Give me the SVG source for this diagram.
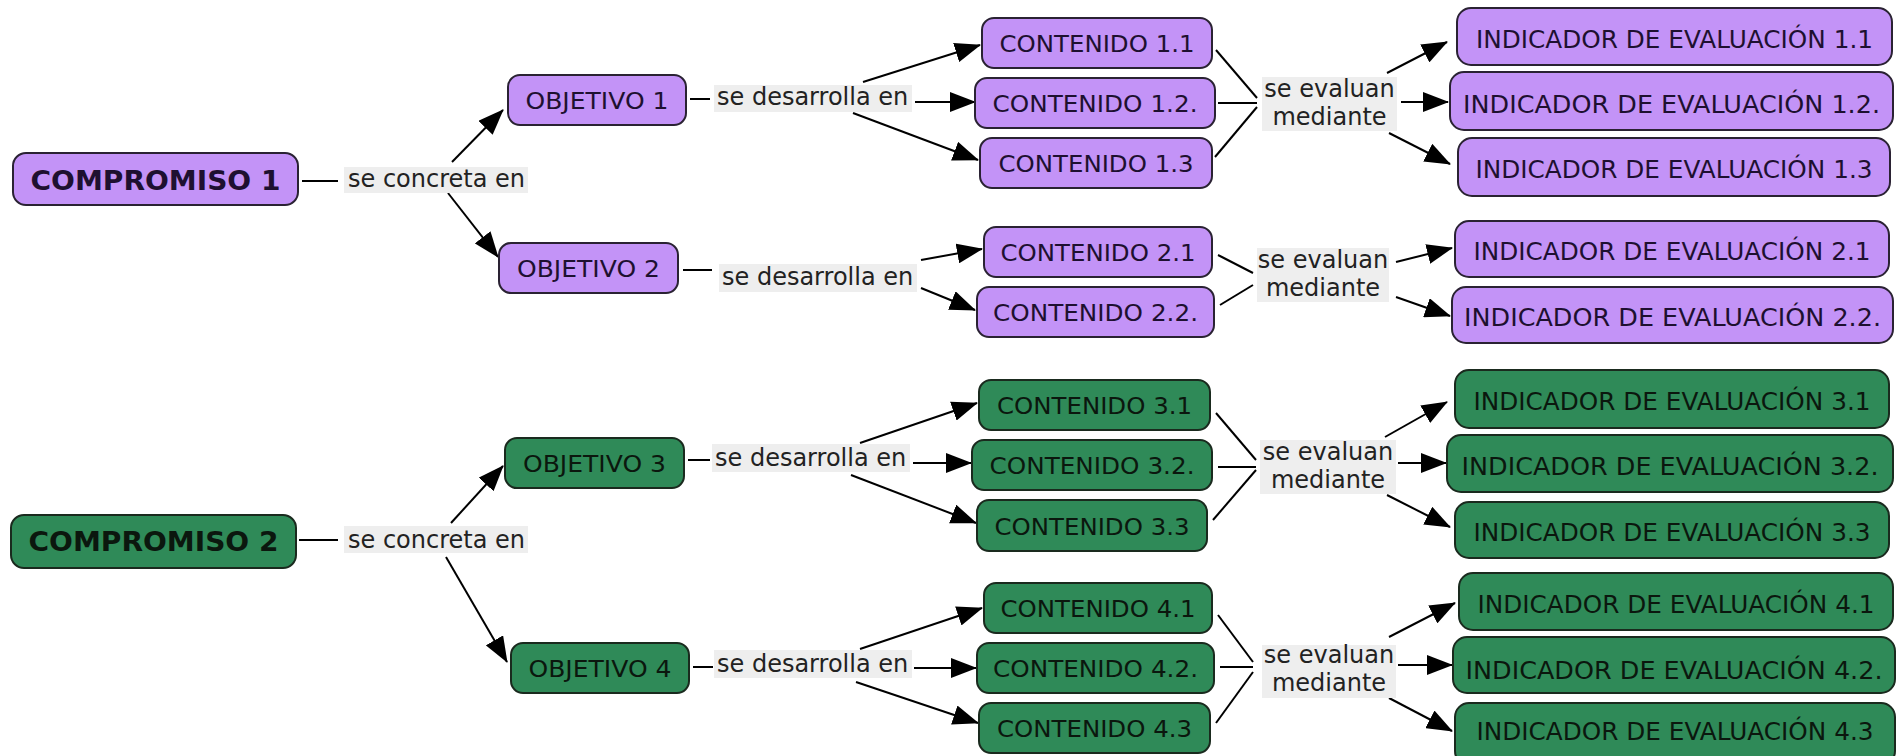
<svg xmlns="http://www.w3.org/2000/svg" width="1899" height="756" viewBox="0 0 1899 756">
<defs>
<marker id="ah" viewBox="0 0 26 20" refX="25" refY="10" markerWidth="26" markerHeight="20" markerUnits="userSpaceOnUse" orient="auto">
<path d="M0,0 L26,10 L0,20 z" fill="#000"/>
</marker>
<style>
.p rect{fill:#c393f7;stroke:#2a2233;stroke-width:2}
.g rect{fill:#2f8a58;stroke:#1a2a1e;stroke-width:2}
.p text{fill:#1e1030}
.g text{fill:#0b170e}
.n{font-family:"DejaVu Sans",Verdana,sans-serif;font-size:23px}
.ni{font-family:"DejaVu Sans",Verdana,sans-serif;font-size:24px}
.nb{font-family:"DejaVu Sans",Verdana,sans-serif;font-size:26px;font-weight:bold}
.lbg{fill:#eeeeee}
.lt{font-family:"DejaVu Sans",Verdana,sans-serif;font-size:24px;fill:#222}
.c line,.c path{stroke:#000;stroke-width:2;fill:none}
.c .a{marker-end:url(#ah)}
</style>
</defs>
<rect width="1899" height="756" fill="#fff"/>

<g id="connectors" class="c">
<line x1="302" y1="181" x2="338" y2="181"/>
<line class="a" x1="452" y1="162" x2="503" y2="110"/>
<line class="a" x1="448" y1="193" x2="498" y2="257"/>
<line x1="690" y1="99" x2="710" y2="99"/>
<line class="a" x1="915" y1="102" x2="975" y2="102"/>
<line class="a" x1="863" y1="82" x2="980" y2="45"/>
<line class="a" x1="853" y1="113" x2="978" y2="160"/>
<line x1="1216" y1="50" x2="1257" y2="98"/>
<line x1="1218" y1="103" x2="1257" y2="103"/>
<line x1="1215" y1="157" x2="1257" y2="107"/>
<line class="a" x1="1387" y1="73" x2="1447" y2="42"/>
<line class="a" x1="1401" y1="102" x2="1448" y2="102"/>
<line class="a" x1="1389" y1="133" x2="1450" y2="164"/>
<line x1="683" y1="270" x2="712" y2="270"/>
<line class="a" x1="921" y1="260" x2="982" y2="249"/>
<line class="a" x1="921" y1="288" x2="975" y2="310"/>
<line x1="1218" y1="255" x2="1253" y2="273"/>
<line x1="1220" y1="305" x2="1253" y2="285"/>
<line class="a" x1="1396" y1="262" x2="1452" y2="248"/>
<line class="a" x1="1396" y1="297" x2="1450" y2="316"/>
<line x1="299" y1="540" x2="338" y2="540"/>
<line class="a" x1="451" y1="523" x2="503" y2="466"/>
<line class="a" x1="446" y1="557" x2="507" y2="662"/>
<line x1="688" y1="460" x2="710" y2="460"/>
<line class="a" x1="913" y1="463" x2="971" y2="463"/>
<line class="a" x1="860" y1="443" x2="977" y2="403"/>
<line class="a" x1="851" y1="475" x2="976" y2="523"/>
<line x1="1216" y1="413" x2="1256" y2="460"/>
<line x1="1218" y1="467" x2="1256" y2="467"/>
<line x1="1213" y1="520" x2="1256" y2="470"/>
<line class="a" x1="1385" y1="437" x2="1447" y2="402"/>
<line class="a" x1="1398" y1="463" x2="1446" y2="463"/>
<line class="a" x1="1387" y1="495" x2="1450" y2="527"/>
<line x1="693" y1="667" x2="713" y2="667"/>
<line class="a" x1="914" y1="668" x2="976" y2="668"/>
<line class="a" x1="860" y1="649" x2="982" y2="608"/>
<line class="a" x1="856" y1="682" x2="978" y2="723"/>
<line x1="1218" y1="615" x2="1253" y2="662"/>
<line x1="1220" y1="667" x2="1253" y2="667"/>
<line x1="1216" y1="723" x2="1253" y2="672"/>
<line class="a" x1="1389" y1="637" x2="1455" y2="603"/>
<line class="a" x1="1398" y1="665" x2="1452" y2="665"/>
<line class="a" x1="1389" y1="698" x2="1452" y2="731"/>
</g>

<g id="labels">
<g id="lbl-c1"><rect class="lbg" x="344" y="167" width="184" height="26"/><text class="lt" x="348" y="187">se concreta en</text></g>
<g id="lbl-o1"><rect class="lbg" x="714" y="85" width="198" height="27"/><text class="lt" x="717" y="105">se desarrolla en</text></g>
<g id="lbl-e1"><rect class="lbg" x="1262" y="77" width="135" height="54"/><text class="lt" x="1329.5" y="97" text-anchor="middle">se evaluan</text><text class="lt" x="1329.5" y="125" text-anchor="middle">mediante</text></g>
<g id="lbl-o2"><rect class="lbg" x="719" y="264" width="198" height="28"/><text class="lt" x="722" y="285">se desarrolla en</text></g>
<g id="lbl-e2"><rect class="lbg" x="1257" y="248" width="132" height="54"/><text class="lt" x="1323" y="268" text-anchor="middle">se evaluan</text><text class="lt" x="1323" y="296" text-anchor="middle">mediante</text></g>
<g id="lbl-c2"><rect class="lbg" x="344" y="526" width="184" height="27"/><text class="lt" x="348" y="548">se concreta en</text></g>
<g id="lbl-o3"><rect class="lbg" x="712" y="444" width="198" height="28"/><text class="lt" x="715" y="466">se desarrolla en</text></g>
<g id="lbl-e3"><rect class="lbg" x="1260" y="440" width="136" height="54"/><text class="lt" x="1328" y="460" text-anchor="middle">se evaluan</text><text class="lt" x="1328" y="488" text-anchor="middle">mediante</text></g>
<g id="lbl-o4"><rect class="lbg" x="714" y="650" width="198" height="28"/><text class="lt" x="717" y="672">se desarrolla en</text></g>
<g id="lbl-e4"><rect class="lbg" x="1262" y="645" width="134" height="53"/><text class="lt" x="1329" y="663" text-anchor="middle">se evaluan</text><text class="lt" x="1329" y="691" text-anchor="middle">mediante</text></g>
</g>

<g class="p">
<g id="compromiso1"><rect x="13" y="153" width="285" height="52" rx="13"/><text class="nb" x="30.5" y="190" textLength="250" lengthAdjust="spacingAndGlyphs">COMPROMISO 1</text></g>
<g id="objetivo1"><rect x="508" y="75" width="178" height="50" rx="12"/><text class="n" x="525.5" y="108.5" textLength="143" lengthAdjust="spacingAndGlyphs">OBJETIVO 1</text></g>
<g id="objetivo2"><rect x="499" y="243" width="179" height="50" rx="12"/><text class="n" x="517" y="277" textLength="143" lengthAdjust="spacingAndGlyphs">OBJETIVO 2</text></g>
<g id="contenido11"><rect x="982" y="18" width="230" height="50" rx="12"/><text class="n" x="999.5" y="52" textLength="195" lengthAdjust="spacingAndGlyphs">CONTENIDO 1.1</text></g>
<g id="contenido12"><rect x="975" y="78" width="240" height="50" rx="12"/><text class="n" x="992.5" y="112" textLength="205" lengthAdjust="spacingAndGlyphs">CONTENIDO 1.2.</text></g>
<g id="contenido13"><rect x="980" y="138" width="232" height="50" rx="12"/><text class="n" x="998.5" y="172" textLength="195" lengthAdjust="spacingAndGlyphs">CONTENIDO 1.3</text></g>
<g id="contenido21"><rect x="984" y="227" width="228" height="50" rx="12"/><text class="n" x="1000.5" y="261" textLength="195" lengthAdjust="spacingAndGlyphs">CONTENIDO 2.1</text></g>
<g id="contenido22"><rect x="977" y="287" width="237" height="50" rx="12"/><text class="n" x="993" y="321" textLength="205" lengthAdjust="spacingAndGlyphs">CONTENIDO 2.2.</text></g>
<g id="indicador11"><rect x="1457" y="8" width="435" height="57" rx="14"/><text class="ni" x="1476" y="48" textLength="397" lengthAdjust="spacingAndGlyphs">INDICADOR DE EVALUACIÓN 1.1</text></g>
<g id="indicador12"><rect x="1450" y="72" width="443" height="58" rx="14"/><text class="ni" x="1463" y="113" textLength="417" lengthAdjust="spacingAndGlyphs">INDICADOR DE EVALUACIÓN 1.2.</text></g>
<g id="indicador13"><rect x="1458" y="138" width="432" height="58" rx="14"/><text class="ni" x="1475.5" y="178" textLength="397" lengthAdjust="spacingAndGlyphs">INDICADOR DE EVALUACIÓN 1.3</text></g>
<g id="indicador21"><rect x="1455" y="221" width="434" height="56" rx="14"/><text class="ni" x="1473.5" y="260" textLength="397" lengthAdjust="spacingAndGlyphs">INDICADOR DE EVALUACIÓN 2.1</text></g>
<g id="indicador22"><rect x="1452" y="287" width="441" height="56" rx="14"/><text class="ni" x="1464" y="326" textLength="417" lengthAdjust="spacingAndGlyphs">INDICADOR DE EVALUACIÓN 2.2.</text></g>
</g>

<g class="g">
<g id="compromiso2"><rect x="11" y="515" width="285" height="53" rx="13"/><text class="nb" x="28.5" y="551" textLength="250" lengthAdjust="spacingAndGlyphs">COMPROMISO 2</text></g>
<g id="objetivo3"><rect x="505" y="438" width="179" height="50" rx="12"/><text class="n" x="523" y="472" textLength="143" lengthAdjust="spacingAndGlyphs">OBJETIVO 3</text></g>
<g id="objetivo4"><rect x="511" y="643" width="178" height="50" rx="12"/><text class="n" x="528.5" y="677" textLength="143" lengthAdjust="spacingAndGlyphs">OBJETIVO 4</text></g>
<g id="contenido31"><rect x="979" y="380" width="231" height="50" rx="12"/><text class="n" x="997" y="414" textLength="195" lengthAdjust="spacingAndGlyphs">CONTENIDO 3.1</text></g>
<g id="contenido32"><rect x="972" y="440" width="240" height="50" rx="12"/><text class="n" x="989.5" y="474" textLength="205" lengthAdjust="spacingAndGlyphs">CONTENIDO 3.2.</text></g>
<g id="contenido33"><rect x="977" y="500" width="230" height="51" rx="12"/><text class="n" x="994.5" y="534.5" textLength="195" lengthAdjust="spacingAndGlyphs">CONTENIDO 3.3</text></g>
<g id="contenido41"><rect x="984" y="583" width="228" height="50" rx="12"/><text class="n" x="1000.5" y="617" textLength="195" lengthAdjust="spacingAndGlyphs">CONTENIDO 4.1</text></g>
<g id="contenido42"><rect x="977" y="643" width="237" height="50" rx="12"/><text class="n" x="993" y="677" textLength="205" lengthAdjust="spacingAndGlyphs">CONTENIDO 4.2.</text></g>
<g id="contenido43"><rect x="979" y="703" width="231" height="50" rx="12"/><text class="n" x="997" y="737" textLength="195" lengthAdjust="spacingAndGlyphs">CONTENIDO 4.3</text></g>
<g id="indicador31"><rect x="1455" y="370" width="434" height="58" rx="14"/><text class="ni" x="1473.5" y="410" textLength="397" lengthAdjust="spacingAndGlyphs">INDICADOR DE EVALUACIÓN 3.1</text></g>
<g id="indicador32"><rect x="1447" y="435" width="446" height="57" rx="14"/><text class="ni" x="1461.5" y="475" textLength="417" lengthAdjust="spacingAndGlyphs">INDICADOR DE EVALUACIÓN 3.2.</text></g>
<g id="indicador33"><rect x="1455" y="502" width="434" height="56" rx="14"/><text class="ni" x="1473.5" y="541" textLength="397" lengthAdjust="spacingAndGlyphs">INDICADOR DE EVALUACIÓN 3.3</text></g>
<g id="indicador41"><rect x="1459" y="573" width="434" height="57" rx="14"/><text class="ni" x="1477.5" y="613" textLength="397" lengthAdjust="spacingAndGlyphs">INDICADOR DE EVALUACIÓN 4.1</text></g>
<g id="indicador42"><rect x="1453" y="637" width="442" height="56" rx="14"/><text class="ni" x="1465.5" y="679" textLength="417" lengthAdjust="spacingAndGlyphs">INDICADOR DE EVALUACIÓN 4.2.</text></g>
<g id="indicador43"><rect x="1455" y="703" width="440" height="62" rx="14"/><text class="ni" x="1476.5" y="740" textLength="397" lengthAdjust="spacingAndGlyphs">INDICADOR DE EVALUACIÓN 4.3</text></g>
</g>
</svg>
